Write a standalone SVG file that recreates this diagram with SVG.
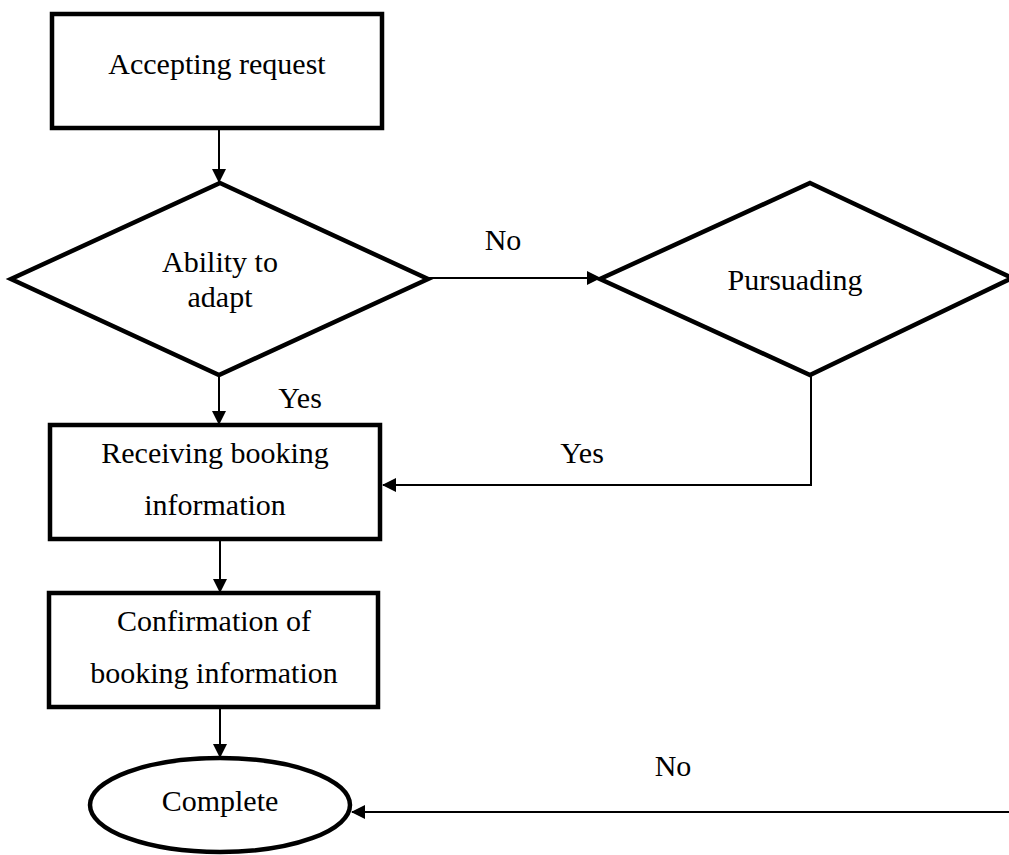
<svg xmlns="http://www.w3.org/2000/svg" width="1009" height="855" viewBox="0 0 1009 855" font-family="'Liberation Serif', 'Times New Roman', serif" font-size="30">
<style>
.shape{fill:#fff;stroke:#000;stroke-width:4.5;stroke-linejoin:miter}
.conn{fill:none;stroke:#000;stroke-width:2}
.t{font-family:'Liberation Serif','Times New Roman',serif;font-size:30px;fill:#000;text-anchor:middle}
</style>
<defs>
<marker id="arrL" markerWidth="14" markerHeight="14" refX="13" refY="7" orient="auto" markerUnits="userSpaceOnUse" viewBox="0 0 14 14">
<path d="M0,0 L14,7 L0,14 Z" fill="#000"/>
</marker>
</defs>
<rect width="1009" height="855" fill="#fff"/>
<g id="connectors">
<line class="conn" x1="219" y1="128" x2="219" y2="182" marker-end="url(#arrL)"/>
<line class="conn" x1="428" y1="278" x2="600" y2="278" marker-end="url(#arrL)"/>
<line class="conn" x1="219" y1="375" x2="219" y2="424" marker-end="url(#arrL)"/>
<polyline class="conn" points="811,375 811,485 383,485" marker-end="url(#arrL)"/>
<line class="conn" x1="220" y1="539" x2="220" y2="592" marker-end="url(#arrL)"/>
<line class="conn" x1="220" y1="707" x2="220" y2="757" marker-end="url(#arrL)"/>
<line class="conn" x1="1009" y1="812" x2="352" y2="812" marker-end="url(#arrL)"/>
<text class="t" x="503" y="250">No</text>
<text class="t" x="300" y="408">Yes</text>
<text class="t" x="582" y="463">Yes</text>
<text class="t" x="673" y="776">No</text>
</g>
<g id="accepting">
<rect class="shape" x="52" y="14" width="330" height="114"/>
<text class="t" x="217" y="74">Accepting request</text>
</g>
<g id="ability">
<polygon class="shape" points="220,183 428,279 219,375 11,279"/>
<text class="t" x="220" y="272">Ability to</text>
<text class="t" x="220" y="307">adapt</text>
</g>
<g id="pursuading">
<polygon class="shape" points="810,183 1012,278 810,375 600,279"/>
<text class="t" x="795" y="290">Pursuading</text>
</g>
<g id="receiving">
<rect class="shape" x="50" y="425" width="330" height="114"/>
<text class="t" x="215" y="463">Receiving booking</text>
<text class="t" x="215" y="515">information</text>
</g>
<g id="confirmation">
<rect class="shape" x="49" y="593" width="329" height="114"/>
<text class="t" x="214" y="631">Confirmation of</text>
<text class="t" x="214" y="683">booking information</text>
</g>
<g id="complete">
<ellipse class="shape" cx="220" cy="805" rx="130" ry="47"/>
<text class="t" x="220" y="811">Complete</text>
</g>
</svg>
